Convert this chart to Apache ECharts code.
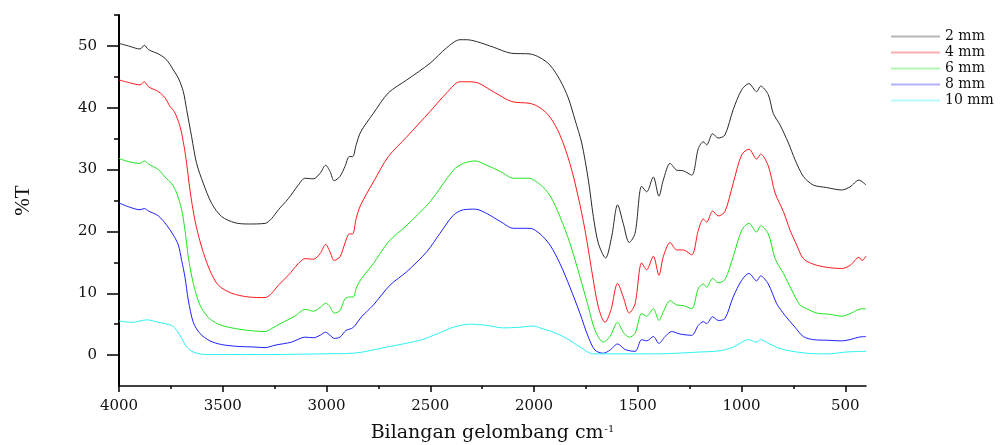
<!DOCTYPE html>
<html>
<head>
<meta charset="utf-8">
<script src="https://cdn.jsdelivr.net/npm/echarts@6/dist/echarts.min.js"></script>
<style>
html,body{margin:0;padding:0;background:#fff;}
#chart{width:1000px;height:445px;}
</style>
</head>
<body>
<div id="chart"></div>
<script>
// ---- data (wavenumber cm-1, %T) ----
const seriesNames = ['2 mm', '4 mm', '6 mm', '8 mm', '10 mm'];

const wn2 = [4000,3955,3899,3878,3858,3810,3778,3754,3738,3714,3690,3674,3650,3626,3594,3553,3505,3441,3377,3296,3264,3232,3184,3136,3103,3063,3031,3004,2983,2963,2935,2911,2890,2874,2857,2835,2774,2702,2613,2501,2421,2357,2324,2276,2196,2107,2019,1971,1923,1875,1835,1802,1770,1738,1714,1690,1655,1626,1597,1570,1541,1513,1481,1457,1425,1398,1377,1344,1312,1280,1240,1208,1184,1168,1139,1112,1080,1040,999,964,927,908,871,847,814,774,742,702,654,590,517,477,434,400];
const t2  = [50.4,50.0,49.5,50.1,49.4,48.7,48.0,47.0,46.1,44.8,42.6,39.7,35.3,31.0,27.8,24.5,22.4,21.4,21.2,21.3,22.1,23.5,25.3,27.5,28.6,28.5,29.4,30.7,29.7,28.2,28.9,30.5,32.1,32.1,34.0,36.1,39.1,42.4,44.5,47.2,49.7,51.0,51.0,50.7,49.8,48.8,48.7,48.1,46.9,44.5,41.6,38.0,34.3,28.3,22.4,18.1,15.7,19.1,24.3,21.3,18.2,19.7,27.3,26.4,28.8,25.7,28.3,31.0,29.9,29.8,29.1,33.4,34.5,34.0,35.8,35.1,35.6,39.7,42.9,43.9,42.6,43.5,42.1,39.1,37.2,34.3,31.6,28.9,27.5,27.1,26.7,27.2,28.3,27.5];

const wn4 = [4000,3955,3899,3878,3858,3810,3778,3754,3734,3706,3686,3674,3658,3634,3602,3562,3521,3457,3377,3296,3264,3232,3184,3136,3103,3063,3031,3004,2983,2963,2935,2911,2890,2874,2857,2835,2774,2702,2613,2501,2421,2357,2317,2269,2196,2107,2019,1971,1923,1875,1827,1787,1754,1722,1690,1658,1630,1597,1570,1541,1513,1481,1457,1425,1398,1377,1344,1312,1280,1240,1208,1184,1168,1139,1112,1080,1040,999,964,927,908,871,838,798,766,734,702,654,590,517,477,434,419,400];
const t4  = [44.5,44.1,43.7,44.2,43.4,42.6,41.6,40.2,39.4,37.0,33.7,31.0,26.7,21.8,17.5,13.7,11.3,10.0,9.4,9.3,10.0,11.3,12.9,14.8,15.6,15.5,16.4,17.9,16.7,15.3,15.9,18.1,19.6,19.6,22.1,24.3,28.0,32.1,35.3,39.4,42.4,44.2,44.2,44.0,42.6,41.0,40.7,40.0,38.5,35.6,31.0,25.6,20.2,13.7,7.8,5.3,7.2,11.6,9.4,6.8,8.3,14.9,13.8,16.0,12.9,15.9,18.2,17.0,17.0,16.2,20.2,22.0,21.5,23.3,22.5,23.2,27.8,32.4,33.3,31.7,32.5,30.6,26.2,23.2,20.2,17.8,15.6,14.7,14.2,14.0,14.5,15.8,15.3,16.0];

const wn6 = [4000,3955,3899,3878,3858,3810,3778,3746,3722,3698,3682,3666,3642,3610,3570,3521,3457,3377,3296,3264,3216,3152,3103,3063,3031,3004,2983,2963,2935,2911,2887,2871,2855,2831,2774,2702,2613,2501,2389,2340,2283,2228,2162,2098,2026,1971,1923,1875,1827,1778,1738,1706,1666,1634,1597,1570,1541,1513,1481,1457,1425,1398,1377,1344,1312,1280,1240,1208,1184,1168,1139,1112,1080,1040,999,964,927,908,871,838,798,758,718,686,638,575,517,477,434,400];
const t6  = [31.8,31.3,31.0,31.4,30.9,30.0,28.8,27.7,26.2,23.5,20.2,15.9,11.6,8.1,6.1,5.0,4.4,4.0,3.8,4.3,5.2,6.3,7.4,7.1,7.7,8.4,7.8,6.8,7.2,9.1,9.4,9.4,11.0,12.4,14.8,18.3,21.0,24.8,29.9,31.0,31.4,30.7,29.7,28.6,28.6,27.6,25.8,22.4,18.1,12.6,7.8,4.0,2.1,3.0,5.3,3.7,2.9,3.5,6.7,6.3,7.5,5.6,7.0,8.8,8.1,8.0,7.5,10.8,11.5,11.0,12.4,11.7,12.2,15.9,20.2,21.3,19.9,20.9,19.6,15.6,13.2,10.5,8.1,7.5,6.8,6.6,6.3,6.7,7.4,7.5];

const wn8 = [4000,3955,3899,3878,3858,3810,3770,3738,3714,3698,3682,3666,3642,3610,3562,3505,3425,3344,3296,3248,3168,3103,3063,3031,3004,2983,2963,2935,2906,2879,2862,2831,2774,2694,2613,2517,2453,2389,2340,2283,2228,2162,2098,2019,1971,1923,1875,1827,1778,1738,1706,1666,1634,1597,1561,1513,1481,1457,1425,1398,1368,1336,1296,1240,1208,1184,1168,1139,1112,1080,1040,999,964,927,908,871,830,790,742,702,654,590,517,477,434,400];
const t8  = [24.6,24.0,23.5,23.7,23.3,22.5,21.0,19.4,17.8,15.3,12.6,8.9,5.3,3.5,2.3,1.7,1.4,1.3,1.2,1.6,2.1,2.9,2.8,3.2,3.7,3.2,2.7,2.9,4.0,4.3,4.8,6.2,8.1,11.3,13.5,16.7,19.7,22.6,23.5,23.6,22.9,21.6,20.5,20.5,19.6,17.8,14.8,11.0,6.7,2.9,0.8,0.3,0.8,1.8,0.9,0.6,2.5,2.3,3.0,1.9,3.0,3.8,3.4,3.2,4.8,5.4,5.1,6.2,5.6,5.9,9.4,12.1,13.2,12.0,12.8,11.5,8.3,6.4,4.5,3.0,2.5,2.4,2.3,2.5,2.9,3.0];

const wn10 = [4000,3937,3865,3810,3746,3722,3698,3674,3642,3585,3457,3216,3031,2871,2710,2549,2469,2389,2308,2228,2147,2068,2003,1971,1907,1843,1778,1714,1570,1410,1200,1103,1040,964,930,908,865,798,686,582,494,400];
const t10  = [5.5,5.3,5.7,5.3,4.8,4.0,2.7,1.3,0.5,0.1,0.1,0.1,0.2,0.3,1.3,2.4,3.4,4.5,5.0,4.8,4.4,4.5,4.7,4.4,3.7,2.7,1.3,0.2,0.2,0.2,0.5,0.7,1.3,2.5,2.1,2.5,1.8,0.9,0.3,0.2,0.5,0.6];

const xLabelValues = [4000,3500,3000,2500,2000,1500,1000,500];
const xMinorTicks  = [3750,3250,2750,2250,1750,1250,750];
const yLabelValues = [0,10,20,30,40,50];
const yMinorTicks  = [5,15,25,35,45,55];

const colors = ['#2a2a2a', '#ff1a1a', '#1ee61e', '#2020ff', '#2ef2f2'];
const allX = [wn2, wn4, wn6, wn8, wn10];
const allY = [t2, t4, t6, t8, t10];

const FONT = 'DejaVu Serif';

const series = seriesNames.map((name, i) => ({
  name: name,
  type: 'line',
  xAxisIndex: 0,
  yAxisIndex: 0,
  data: allX[i].map((x, k) => [x, allY[i][k]]),
  symbol: 'none',
  showSymbol: false,
  smooth: 0.3,
  lineStyle: { color: colors[i], width: 1 },
  itemStyle: { color: colors[i] },
  emphasis: { disabled: true },
  animation: false
}));

const chart = echarts.init(document.getElementById('chart'), null, { renderer: 'canvas' });
chart.setOption({
  backgroundColor: '#ffffff',
  animation: false,
  grid: {
    left: 119, right: 134, top: 15, bottom: 59,
    containLabel: false,
    outerBoundsMode: 'none'
  },
  legend: {
    orient: 'vertical',
    left: 886,
    top: 24,
    itemWidth: 49,
    itemHeight: 2,
    itemGap: 1,
    icon: 'rect',
    itemStyle: { opacity: 0.35 },
    textStyle: { fontFamily: FONT, fontSize: 14, color: '#111', lineHeight: 15, padding: [0,0,0,0] },
    data: seriesNames
  },
  xAxis: [
    {
      type: 'value',
      inverse: true,
      min: 400,
      max: 4000,
      position: 'bottom',
      name: 'Bilangan gelombang cm{sup|-1}',
      nameLocation: 'middle',
      nameGap: 38,
      nameMoveOverlap: false,
      nameTextStyle: {
        fontFamily: FONT, fontSize: 19, color: '#111',
        rich: { sup: { fontFamily: FONT, fontSize: 10, color: '#111', verticalAlign: 'top', padding: [0, 0, 9, 1] } }
      },
      axisLine: { show: true, onZero: false, lineStyle: { color: '#000', width: 1.5 } },
      axisTick: { show: true, inside: false, length: 6, customValues: xLabelValues, lineStyle: { color: '#000', width: 1.5 } },
      axisLabel: { show: true, customValues: xLabelValues, margin: 13, fontFamily: FONT, fontSize: 15, color: '#111', formatter: v => String(v) },
      splitLine: { show: false },
      minorTick: { show: false }
    },
    {
      type: 'value',
      inverse: true,
      min: 400,
      max: 4000,
      position: 'bottom',
      axisLine: { show: false, onZero: false },
      axisTick: { show: true, inside: false, length: 3, customValues: xMinorTicks, lineStyle: { color: '#000', width: 1.5 } },
      axisLabel: { show: false },
      splitLine: { show: false }
    }
  ],
  yAxis: [
    {
      type: 'value',
      min: -5,
      max: 55,
      position: 'left',
      name: '%T',
      nameLocation: 'middle',
      nameRotate: 90,
      nameGap: 85,
      nameMoveOverlap: false,
      nameTextStyle: { fontFamily: 'Liberation Serif', fontSize: 21, color: '#111' },
      axisLine: { show: true, onZero: false, lineStyle: { color: '#000', width: 2 } },
      axisTick: { show: true, inside: false, length: 12, customValues: yLabelValues, lineStyle: { color: '#000', width: 1.5 } },
      axisLabel: { show: true, customValues: yLabelValues, margin: 22, fontFamily: FONT, fontSize: 15, color: '#111', formatter: v => String(v) },
      splitLine: { show: false }
    },
    {
      type: 'value',
      min: -5,
      max: 55,
      position: 'left',
      axisLine: { show: false, onZero: false },
      axisTick: { show: true, inside: false, length: 5, customValues: yMinorTicks, lineStyle: { color: '#000', width: 1.5 } },
      axisLabel: { show: false },
      splitLine: { show: false }
    }
  ],
  series: series
});
</script>
</body>
</html>
